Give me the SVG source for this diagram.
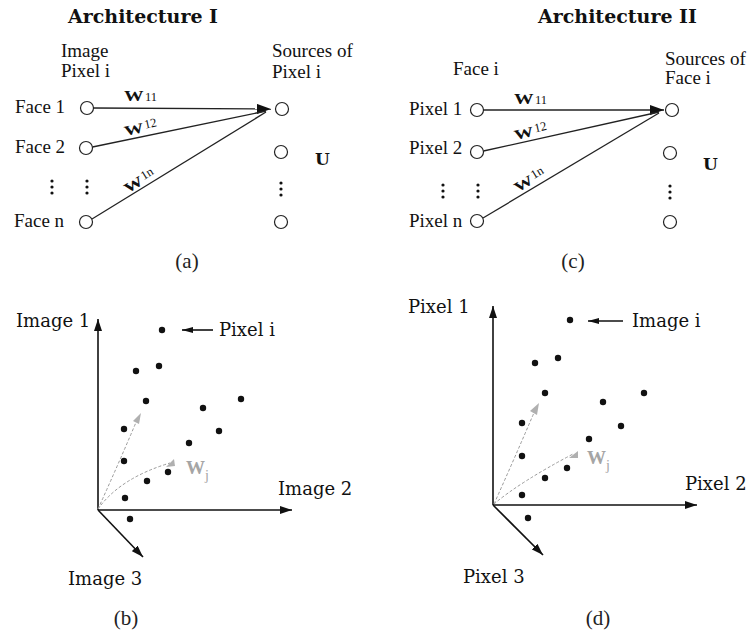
<svg xmlns="http://www.w3.org/2000/svg" width="750" height="639" viewBox="0 0 750 639">
<defs>
<style>
.bg{fill:#fff}
.lbl{font-family:"Liberation Serif",serif;font-size:19px;fill:#111}
.title{font-family:"DejaVu Serif",serif;font-weight:bold;font-size:19px;fill:#111}
.ax{font-family:"DejaVu Serif",serif;font-size:18px;fill:#111}
.cap{font-family:"Liberation Serif",serif;font-size:21px;fill:#222;text-anchor:middle}
.w{font-family:"Liberation Serif",serif;font-weight:bold;font-size:14px;fill:#111}
.sub{font-family:"Liberation Serif",serif;font-size:12.5px;fill:#111}
.u{font-family:"DejaVu Serif",serif;font-weight:bold;font-size:17px;fill:#111}
.node{fill:#fff;stroke:#222;stroke-width:1.2}
.edge{fill:none;stroke:#222;stroke-width:1.3}
.axis{fill:none;stroke:#111;stroke-width:1.6}
.dot{fill:#111}
.dash{fill:none;stroke:#9a9a9a;stroke-width:1;stroke-dasharray:3 2}
.gw{font-family:"Liberation Serif",serif;font-weight:bold;font-size:19px;fill:#a5a5a5}
.gj{font-family:"Liberation Serif",serif;font-size:14px;fill:#a5a5a5}
.gh{fill:#b0b0b0}
</style>
<marker id="ahTop" viewBox="0 0 14 10" refX="14" refY="5" markerWidth="14" markerHeight="10" markerUnits="userSpaceOnUse" orient="auto"><path d="M0,0 L14,5 L0,10 z" fill="#111"/></marker>
<marker id="ahAx" viewBox="0 0 12 8" refX="12" refY="4" markerWidth="12" markerHeight="8" markerUnits="userSpaceOnUse" orient="auto"><path d="M0,0 L12,4 L0,8 z" fill="#111"/></marker>
<marker id="ahSm" viewBox="0 0 11 6" refX="11" refY="3" markerWidth="11" markerHeight="6" markerUnits="userSpaceOnUse" orient="auto"><path d="M0,0 L11,3 L0,6 z" fill="#111"/></marker>
</defs>
<rect class="bg" x="0" y="0" width="750" height="639"/>

<!-- Panel (a) -->
<g id="panel-a">
<text class="title" x="68" y="23">Architecture I</text>
<text class="lbl" x="61" y="57">Image</text>
<text class="lbl" x="61" y="77">Pixel i</text>
<text class="lbl" x="272" y="57">Sources of</text>
<text class="lbl" x="272" y="78">Pixel i</text>
<g id="a-in1"><text class="lbl" x="15" y="113">Face 1</text><circle class="node" cx="87" cy="108" r="6.5"/></g>
<g id="a-in2"><text class="lbl" x="15" y="153">Face 2</text><circle class="node" cx="86" cy="148" r="6.5"/></g>
<g id="a-inn"><text class="lbl" x="14" y="227">Face n</text><circle class="node" cx="86" cy="222" r="6.5"/></g>
<g id="a-out1"><circle class="node" cx="282" cy="109" r="6.5"/></g>
<g id="a-out2"><circle class="node" cx="281" cy="152" r="6.5"/></g>
<g id="a-outn"><circle class="node" cx="281" cy="222" r="6.5"/></g>
<g id="a-vdots">
<circle class="dot" cx="52" cy="181" r="1.6"/><circle class="dot" cx="52" cy="187" r="1.6"/><circle class="dot" cx="52" cy="193" r="1.6"/>
<circle class="dot" cx="87" cy="181" r="1.6"/><circle class="dot" cx="87" cy="187" r="1.6"/><circle class="dot" cx="87" cy="193" r="1.6"/>
<circle class="dot" cx="281" cy="183" r="1.6"/><circle class="dot" cx="281" cy="189" r="1.6"/><circle class="dot" cx="281" cy="195" r="1.6"/>
</g>
<text class="u" x="315" y="165">U</text>
<text class="cap" x="187" y="268">(a)</text>
</g>

<!-- Panel (c) -->
<g id="panel-c">
<text class="title" x="538" y="23">Architecture II</text>
<text class="lbl" x="453" y="75">Face i</text>
<text class="lbl" x="665" y="65">Sources of</text>
<text class="lbl" x="665" y="84">Face i</text>
<g id="c-in1"><text class="lbl" x="409" y="115">Pixel 1</text><circle class="node" cx="477" cy="110" r="6.5"/></g>
<g id="c-in2"><text class="lbl" x="409" y="154">Pixel 2</text><circle class="node" cx="477" cy="152" r="6.5"/></g>
<g id="c-inn"><text class="lbl" x="409" y="227">Pixel n</text><circle class="node" cx="477" cy="221" r="6.5"/></g>
<g id="c-out1"><circle class="node" cx="672" cy="110" r="6.5"/></g>
<g id="c-out2"><circle class="node" cx="670" cy="153" r="6.5"/></g>
<g id="c-outn"><circle class="node" cx="670" cy="222" r="6.5"/></g>
<g id="c-vdots">
<circle class="dot" cx="443" cy="185" r="1.6"/><circle class="dot" cx="443" cy="191" r="1.6"/><circle class="dot" cx="443" cy="197" r="1.6"/>
<circle class="dot" cx="478" cy="185" r="1.6"/><circle class="dot" cx="478" cy="191" r="1.6"/><circle class="dot" cx="478" cy="197" r="1.6"/>
<circle class="dot" cx="670" cy="186" r="1.6"/><circle class="dot" cx="670" cy="192" r="1.6"/><circle class="dot" cx="670" cy="198" r="1.6"/>
</g>
<text class="u" x="703" y="170">U</text>
<text class="cap" x="573" y="268">(c)</text>
</g>

<!-- Connectors for (a) and (c) -->
<g id="connectors">
<line class="edge" x1="93.5" y1="108" x2="271" y2="109" marker-end="url(#ahTop)"/>
<line class="edge" x1="92.5" y1="147" x2="266" y2="111"/>
<line class="edge" x1="92" y1="219" x2="266" y2="112"/>
<line class="edge" x1="483.5" y1="110" x2="664" y2="110" marker-end="url(#ahTop)"/>
<line class="edge" x1="483.5" y1="151" x2="659" y2="112"/>
<line class="edge" x1="483" y1="218" x2="659" y2="113"/>
</g>

<!-- Weight labels -->
<g id="weights-a">
<g transform="translate(124,101)"><text class="w" transform="scale(1.4,1)">W</text><text class="sub" x="21" y="0">11</text></g>
<g transform="translate(126,139) rotate(-12.2)"><text class="w" y="-3" transform="scale(1.4,1)">W</text><text class="sub" x="21" y="-6">12</text></g>
<g transform="translate(130,198) rotate(-31.6)"><text class="w" y="-5" transform="scale(1.4,1)">W</text><text class="sub" x="21" y="-8">1n</text></g>
</g>
<g id="weights-c">
<g transform="translate(514,104)"><text class="w" transform="scale(1.4,1)">W</text><text class="sub" x="21" y="0">11</text></g>
<g transform="translate(516,143) rotate(-12.8)"><text class="w" y="-3" transform="scale(1.4,1)">W</text><text class="sub" x="21" y="-6">12</text></g>
<g transform="translate(520,197) rotate(-31.2)"><text class="w" y="-5" transform="scale(1.4,1)">W</text><text class="sub" x="21" y="-8">1n</text></g>
</g>

<!-- Panel (b) -->
<g id="panel-b">
<path class="axis" d="M98,510 V319" marker-end="url(#ahAx)"/>
<path class="axis" d="M98,510 H292" marker-end="url(#ahAx)"/>
<path class="axis" d="M98,510 L143,557" marker-end="url(#ahAx)"/>
<text class="ax" x="16" y="327">Image 1</text>
<text class="ax" x="278" y="495">Image 2</text>
<text class="ax" x="68" y="585">Image 3</text>
<line class="axis" x1="213" y1="330" x2="182" y2="330" stroke-width="1.3" marker-end="url(#ahSm)"/>
<text class="ax" x="219" y="336">Pixel i</text>
<path class="dash" d="M98,509 Q118,465 137,420"/>
<path class="gh" d="M133,421 L141,413 L139,424 z"/>
<path class="dash" d="M98,509 Q120,478 170,463"/>
<path class="gh" d="M166,467 L174,459 L175,466 z"/>
<text x="186" y="474"><tspan class="gw">W</tspan><tspan class="gj" dy="6">j</tspan></text>
<g id="b-dots">
<circle class="dot" cx="162" cy="330" r="3.2"/>
<circle class="dot" cx="136" cy="371" r="3.2"/>
<circle class="dot" cx="159" cy="366" r="3.2"/>
<circle class="dot" cx="146" cy="401" r="3.2"/>
<circle class="dot" cx="241" cy="399" r="3.2"/>
<circle class="dot" cx="203" cy="408" r="3.2"/>
<circle class="dot" cx="124" cy="429" r="3.2"/>
<circle class="dot" cx="219" cy="431" r="3.2"/>
<circle class="dot" cx="189" cy="443" r="3.2"/>
<circle class="dot" cx="124" cy="461" r="3.2"/>
<circle class="dot" cx="168" cy="472" r="3.2"/>
<circle class="dot" cx="147" cy="481" r="3.2"/>
<circle class="dot" cx="125" cy="498" r="3.2"/>
<circle class="dot" cx="130" cy="519" r="3.2"/>
</g>
<text class="cap" x="126" y="625">(b)</text>
</g>

<!-- Panel (d) -->
<g id="panel-d">
<path class="axis" d="M493,505 V306" marker-end="url(#ahAx)"/>
<path class="axis" d="M493,505 H697" marker-end="url(#ahAx)"/>
<path class="axis" d="M493,505 L543,555" marker-end="url(#ahAx)"/>
<text class="ax" x="408" y="313">Pixel 1</text>
<text class="ax" x="685" y="490">Pixel 2</text>
<text class="ax" x="463" y="583">Pixel 3</text>
<line class="axis" x1="623" y1="321" x2="588" y2="321" stroke-width="1.3" marker-end="url(#ahSm)"/>
<text class="ax" x="632" y="327">Image i</text>
<path class="dash" d="M494,504 Q516,455 536,408"/>
<path class="gh" d="M530,411 L539,403 L537,415 z"/>
<path class="dash" d="M494,504 Q520,482 573,454"/>
<path class="gh" d="M569,458 L578,451 L578,458 z"/>
<text x="587" y="464"><tspan class="gw">W</tspan><tspan class="gj" dy="6">j</tspan></text>
<g id="d-dots">
<circle class="dot" cx="570" cy="320" r="3.2"/>
<circle class="dot" cx="535" cy="363" r="3.2"/>
<circle class="dot" cx="558" cy="358" r="3.2"/>
<circle class="dot" cx="545" cy="393" r="3.2"/>
<circle class="dot" cx="644" cy="393" r="3.2"/>
<circle class="dot" cx="603" cy="402" r="3.2"/>
<circle class="dot" cx="522" cy="423" r="3.2"/>
<circle class="dot" cx="621" cy="426" r="3.2"/>
<circle class="dot" cx="589" cy="439" r="3.2"/>
<circle class="dot" cx="522" cy="456" r="3.2"/>
<circle class="dot" cx="567" cy="468" r="3.2"/>
<circle class="dot" cx="545" cy="478" r="3.2"/>
<circle class="dot" cx="522" cy="495" r="3.2"/>
<circle class="dot" cx="528" cy="518" r="3.2"/>
</g>
<text class="cap" x="598" y="625">(d)</text>
</g>
</svg>
